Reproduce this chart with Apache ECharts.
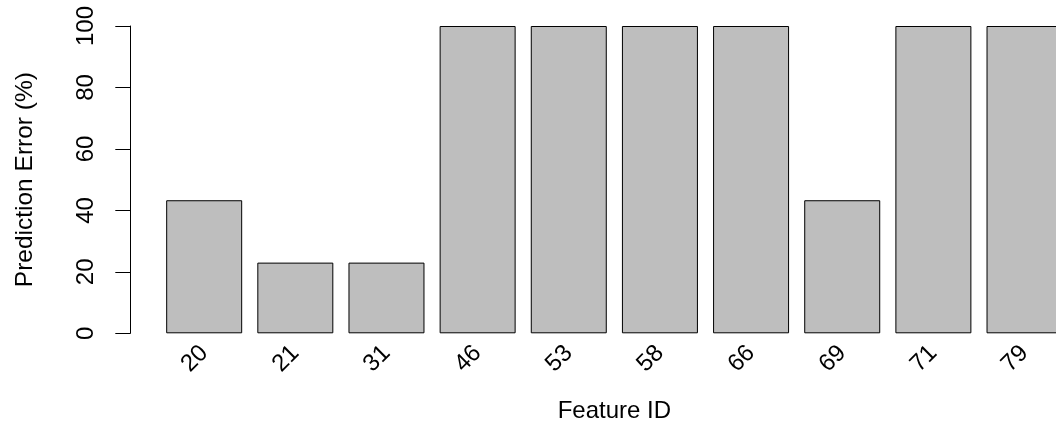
<!DOCTYPE html>
<html>
<head>
<meta charset="utf-8">
<script src="https://cdn.jsdelivr.net/npm/echarts@6/dist/echarts.min.js"></script>
<style>
  html, body { margin: 0; padding: 0; background: #ffffff; }
  #chart { width: 1056px; height: 423px; }
</style>
</head>
<body>
<div id="chart"></div>
<script>
// Feature IDs along the x axis
const featureIds = ['20', '21', '31', '46', '53', '58', '66', '69', '71', '79'];
// Prediction error per feature, in percent
const errorPct = [43.3, 23.0, 23.0, 100, 100, 100, 100, 43.3, 100, 100];
// Y axis scale
const yMin = 0;
const yMax = 100;
const yStep = 20;

const FONT = '"Liberation Sans", Arial, Helvetica, sans-serif';
const chart = echarts.init(document.getElementById('chart'), null, { renderer: 'canvas' });

chart.setOption({
  animation: false,
  backgroundColor: '#ffffff',
  grid: {
    left: 158.6,
    top: 26,
    width: 911.5,
    height: 307.3,
    containLabel: false,
    outerBoundsMode: 'none'
  },
  xAxis: {
    type: 'category',
    data: featureIds,
    boundaryGap: true,
    axisLine: { show: false },
    axisTick: { show: false },
    axisLabel: {
      rotate: 45,
      margin: 16,
      color: '#000000',
      fontFamily: FONT,
      fontSize: 24
    },
    name: 'Feature ID',
    nameLocation: 'middle',
    nameGap: 66,
    nameTextStyle: { color: '#000000', fontFamily: FONT, fontSize: 24 },
    splitLine: { show: false }
  },
  yAxis: {
    type: 'value',
    min: yMin,
    max: yMax,
    interval: yStep,
    offset: 28.3,
    axisLine: { show: true, lineStyle: { color: '#000000', width: 1 } },
    axisTick: { show: true, length: 15, lineStyle: { color: '#000000', width: 1 } },
    axisLabel: {
      rotate: 90,
      margin: 32,
      color: '#000000',
      fontFamily: FONT,
      fontSize: 24
    },
    splitLine: { show: false },
    name: 'Prediction Error (%)',
    nameLocation: 'middle',
    nameRotate: 90,
    nameGap: 93,
    nameTextStyle: { color: '#000000', fontFamily: FONT, fontSize: 24.5 }
  },
  series: [{
    type: 'bar',
    data: errorPct,
    barWidth: 76,
    itemStyle: {
      color: '#bebebe',
      borderColor: '#000000',
      borderWidth: 1
    }
  }]
});
</script>
</body>
</html>
